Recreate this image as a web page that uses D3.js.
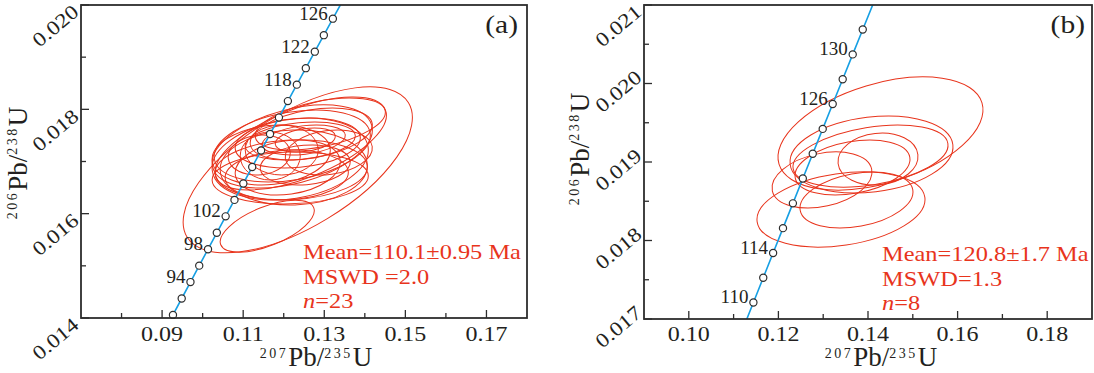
<!DOCTYPE html>
<html lang="en">
    <head>
        <meta charset="utf-8">
        <title>U-Pb concordia</title>
        <script src="https://d3js.org/d3.v7.min.js"></script>
        <style type="text/css">
            body { margin: 0; background: #fff; }
            text { font-family: "Liberation Serif", "Times New Roman", serif; fill: #231f20; }
        </style>
    </head>
    <body>
        <svg id="chart" width="1094" height="373"></svg>
        <script>
            //Concordia ratios, 88-136 Ma in 2 Ma steps
            var concordiaAge = [88, 90, 92, 94, 96, 98, 100, 102, 104, 106, 108, 110, 112,
                                114, 116, 118, 120, 122, 124, 126, 128, 130, 132, 134, 136];
            var concordia207 = [0.0905333, 0.0926834, 0.0948378, 0.0969964, 0.0991593, 0.1013264,
                                0.1034979, 0.1056735, 0.1078536, 0.1100378, 0.1122264, 0.1144193,
                                0.1166166, 0.1188181, 0.1210241, 0.1232343, 0.1254489, 0.1276679,
                                0.1298913, 0.1321190, 0.1343511, 0.1365877, 0.1388286, 0.1410740,
                                0.1433238];
            var concordia206 = [0.0137446, 0.0140592, 0.0143738, 0.0146886, 0.0150035, 0.0153184,
                                0.0156334, 0.0159486, 0.0162638, 0.0165792, 0.0168946, 0.0172102,
                                0.0175258, 0.0178416, 0.0181574, 0.0184733, 0.0187893, 0.0191054,
                                0.0194217, 0.0197380, 0.0200544, 0.0203709, 0.0206876, 0.0210043,
                                0.0213211];

            //Panel (a): 23 analyses (207/235, err, 206/238, err, rho)
            var aX   = [0.12346, 0.11593, 0.12420, 0.12210, 0.12210, 0.12160, 0.12247, 0.12185,
                        0.12074, 0.12346, 0.12407, 0.12494, 0.12531, 0.11951, 0.11667, 0.11395,
                        0.12679, 0.12901, 0.12099, 0.12531, 0.12160, 0.11691, 0.13111];
            var aSX  = [0.02827, 0.01160, 0.02111, 0.01975, 0.01926, 0.01926, 0.01815, 0.01877,
                        0.01519, 0.01543, 0.01358, 0.01025, 0.00741, 0.00901, 0.00741, 0.00765,
                        0.01506, 0.01605, 0.01296, 0.01111, 0.01926, 0.01457, 0.01074];
            var aY   = [0.016840, 0.015760, 0.017345, 0.017288, 0.017297, 0.017048, 0.016885, 0.016840,
                        0.016741, 0.017355, 0.017393, 0.017412, 0.017412, 0.017220, 0.017105, 0.017125,
                        0.017527, 0.017719, 0.016885, 0.016933, 0.016684, 0.017125, 0.017172];
            var aSY  = [0.001591, 0.000498, 0.000891, 0.000796, 0.000690, 0.000786, 0.000719, 0.000575,
                        0.000479, 0.000479, 0.000364, 0.000288, 0.000230, 0.000479, 0.000460, 0.000383,
                        0.000498, 0.000498, 0.000527, 0.000383, 0.000498, 0.000575, 0.000431];
            var aRho = [0.63, 0.60, 0.61, 0.40, 0.30, 0.22, 0.05, 0.10, 0.10, 0.20, 0.26, 0.30,
                        0.30, 0.00, 0.00, 0.10, 0.35, 0.45, 0.20, 0.15, 0.08, 0.15, 0.20];
            var aMarkers = [90, 92, 94, 96, 98, 100, 102, 104, 106, 108, 110, 112, 114, 116, 118, 120, 122, 124, 126];
            var aLabels = [94, 98, 102, 118, 122, 126];
            var aXTicks = [0.09, 0.11, 0.13, 0.15, 0.17];
            var aXMinor = [0.08, 0.10, 0.12, 0.14, 0.16];
            var aYTicks = [0.014, 0.016, 0.018, 0.020];
            var aYMinor = [0.015, 0.017, 0.019];
            var aNotes = ['Mean=110.1\u00b10.95 Ma', 'MSWD =2.0', '=23'];

            //Panel (b): 8 analyses
            var bX   = [0.14279, 0.14078, 0.14056, 0.14223, 0.12973, 0.13397, 0.13743, 0.13654];
            var bSX  = [0.02288, 0.01819, 0.01730, 0.00893, 0.01116, 0.01875, 0.01261, 0.01283];
            var bY   = [0.019363, 0.019096, 0.019076, 0.019038, 0.018771, 0.018395, 0.018516, 0.018930];
            var bSY  = [0.000720, 0.000490, 0.000395, 0.000331, 0.000357, 0.000478, 0.000357, 0.000350];
            var bRho = [0.42, 0.20, 0.35, 0.10, 0.28, 0.27, 0.29, 0.30];
            var bMarkers = [110, 112, 114, 116, 118, 120, 122, 124, 126, 128, 130, 132];
            var bLabels = [110, 114, 126, 130];
            var bXTicks = [0.10, 0.12, 0.14, 0.16, 0.18];
            var bXMinor = [0.11, 0.13, 0.15, 0.17];
            var bYTicks = [0.017, 0.018, 0.019, 0.020, 0.021];
            var bYMinor = [0.0175, 0.0185, 0.0195, 0.0205];
            var bNotes = ['Mean=120.8\u00b11.7 Ma', 'MSWD=1.3', '=8'];

            var svg = d3.select('#chart');
            var red = '#e8341c';

            function drawPanel(p) {
                var g = svg.append('g');
                var x = d3.scaleLinear().domain(p.xDomain).range([p.left, p.right]);
                var y = d3.scaleLinear().domain(p.yDomain).range([p.bottom, p.top]);

                g.append('clipPath').attr('id', p.id)
                    .append('rect')
                    .attr('x', p.left).attr('y', p.top)
                    .attr('width', p.right - p.left).attr('height', p.bottom - p.top);

                var plot = g.append('g').attr('clip-path', 'url(#' + p.id + ')');

                //error ellipses from x/y errors and correlation
                d3.range(p.ex.length).forEach(function(i) {
                    var cx = x(p.ex[i]), cy = y(p.ey[i]);
                    var w = x(p.ex[i] + p.esx[i]) - cx;
                    var h = cy - y(p.ey[i] + p.esy[i]);
                    var sxx = w * w, syy = h * h, sxy = -p.erho[i] * w * h;
                    var ang = 0.5 * Math.atan2(2 * sxy, sxx - syy);
                    var m = (sxx + syy) / 2, d = Math.sqrt(Math.pow((sxx - syy) / 2, 2) + sxy * sxy);
                    plot.append('ellipse')
                        .attr('cx', cx).attr('cy', cy)
                        .attr('rx', Math.sqrt(m + d)).attr('ry', Math.sqrt(Math.max(m - d, 0)))
                        .attr('transform', 'rotate(' + (ang * 180 / Math.PI) + ',' + cx + ',' + cy + ')')
                        .attr('fill', 'none')
                        .attr('stroke', red)
                        .attr('stroke-width', 1);
                });

                //concordia curve
                var line = d3.line()
                    .x(function(i) { return x(concordia207[i]); })
                    .y(function(i) { return y(concordia206[i]); });
                plot.append('path')
                    .datum(d3.range(concordiaAge.length))
                    .attr('d', line)
                    .attr('fill', 'none')
                    .attr('stroke', '#169fe3')
                    .attr('stroke-width', 1.6);

                var idx = function(age) { return concordiaAge.indexOf(age); };

                g.selectAll('circle.m' + p.id)
                    .data(p.markers)
                    .enter()
                    .append('circle')
                    .attr('cx', function(d) { return x(concordia207[idx(d)]); })
                    .attr('cy', function(d) { return y(concordia206[idx(d)]); })
                    .attr('r', 3.6)
                    .attr('fill', '#fff')
                    .attr('stroke', '#2d2d2d')
                    .attr('stroke-width', 1.2);

                g.selectAll('text.age' + p.id)
                    .data(p.labels)
                    .enter()
                    .append('text')
                    .attr('x', function(d) { return x(concordia207[idx(d)]) - 5; })
                    .attr('y', function(d) { return y(concordia206[idx(d)]) + 1; })
                    .attr('text-anchor', 'end')
                    .attr('font-size', 19)
                    .text(function(d) { return d; });

                //inward ticks
                var tickG = g.append('g').attr('stroke', '#2d2d2d').attr('stroke-width', 1.3);
                [[p.xTicks, 8], [p.xMinor, 5]].forEach(function(t) {
                    tickG.selectAll(null).data(t[0]).enter().append('line')
                        .attr('x1', function(d) { return x(d); }).attr('x2', function(d) { return x(d); })
                        .attr('y1', p.bottom).attr('y2', p.bottom - t[1]);
                });
                [[p.yTicks, 8], [p.yMinor, 5]].forEach(function(t) {
                    tickG.selectAll(null).data(t[0]).enter().append('line')
                        .attr('y1', function(d) { return y(d); }).attr('y2', function(d) { return y(d); })
                        .attr('x1', p.left).attr('x2', p.left + t[1]);
                });

                g.append('rect')
                    .attr('x', p.left).attr('y', p.top)
                    .attr('width', p.right - p.left).attr('height', p.bottom - p.top)
                    .attr('fill', 'none')
                    .attr('stroke', '#2d2d2d')
                    .attr('stroke-width', 1.8);

                //tick labels (the figure's type is slightly wide)
                g.selectAll(null).data(p.xTicks).enter().append('text')
                    .attr('transform', function(d) { return 'translate(' + x(d) + ',341) scale(1.2,1)'; })
                    .attr('text-anchor', 'middle')
                    .attr('font-size', 20)
                    .text(d3.format('.2f'));

                g.selectAll(null).data(p.yTicks).enter().append('text')
                    .attr('transform', function(d) {
                        var ty = Math.max(y(d) + p.yLabelShift, 14);
                        return 'translate(' + (p.left - 1) + ',' + ty + ') rotate(-40) scale(1.18,1)';
                    })
                    .attr('text-anchor', 'end')
                    .attr('font-size', 20)
                    .text(d3.format('.3f'));

                //axis titles
                var xt = g.append('text')
                    .attr('x', p.xTitleX).attr('y', 366)
                    .attr('text-anchor', 'middle')
                    .attr('font-size', 27);
                xt.append('tspan').attr('font-size', 14).attr('letter-spacing', 2.5).attr('dy', -8).text('207');
                xt.append('tspan').attr('dy', 8).text('Pb/');
                xt.append('tspan').attr('font-size', 14).attr('letter-spacing', 2.5).attr('dy', -8).text('235');
                xt.append('tspan').attr('dy', 8).text('U');

                var yt = g.append('text')
                    .attr('transform', 'translate(' + p.yTitleX + ',' + p.yTitleY + ') rotate(-90)')
                    .attr('text-anchor', 'middle')
                    .attr('font-size', 27);
                yt.append('tspan').attr('font-size', 14).attr('letter-spacing', 2.5).attr('dy', -10).text('206');
                yt.append('tspan').attr('dy', 10).text('Pb/');
                yt.append('tspan').attr('font-size', 14).attr('letter-spacing', 2.5).attr('dy', -10).text('238');
                yt.append('tspan').attr('dy', 10).text('U');

                //panel letter and results
                g.append('text')
                    .attr('transform', 'translate(' + p.letterX + ',33) scale(1.18,1)')
                    .attr('text-anchor', 'end')
                    .attr('font-size', 25)
                    .text(p.letter);

                p.notes.forEach(function(s, i) {
                    var t = g.append('text')
                        .attr('transform', 'translate(' + p.noteX + ',' + (p.noteY + i * 24.5) + ') scale(1.22,1)')
                        .attr('font-size', 20)
                        .style('fill', red);
                    if (i == 2) {
                        t.append('tspan').attr('font-style', 'italic').text('n');
                        t.append('tspan').text(s);
                    } else {
                        t.text(s);
                    }
                });
            }

            drawPanel({
                id: 'pa', left: 81, right: 527, top: 5, bottom: 318,
                xDomain: [0.07, 0.18], yDomain: [0.014, 0.020],
                ex: aX, esx: aSX, ey: aY, esy: aSY, erho: aRho,
                markers: aMarkers, labels: aLabels,
                xTicks: aXTicks, xMinor: aXMinor, yTicks: aYTicks, yMinor: aYMinor,
                yLabelShift: 9, xTitleX: 316, yTitleX: 27, yTitleY: 163,
                letter: '(a)', letterX: 518, notes: aNotes, noteX: 303, noteY: 259
            });

            drawPanel({
                id: 'pb', left: 644, right: 1092, top: 5, bottom: 319,
                xDomain: [0.09, 0.19], yDomain: [0.017, 0.021],
                ex: bX, esx: bSX, ey: bY, esy: bSY, erho: bRho,
                markers: bMarkers, labels: bLabels,
                xTicks: bXTicks, xMinor: bXMinor, yTicks: bYTicks, yMinor: bYMinor,
                yLabelShift: -4, xTitleX: 881, yTitleX: 589, yTitleY: 149,
                letter: '(b)', letterX: 1085, notes: bNotes, noteX: 882, noteY: 261
            });
        </script>
    </body>
</html>
